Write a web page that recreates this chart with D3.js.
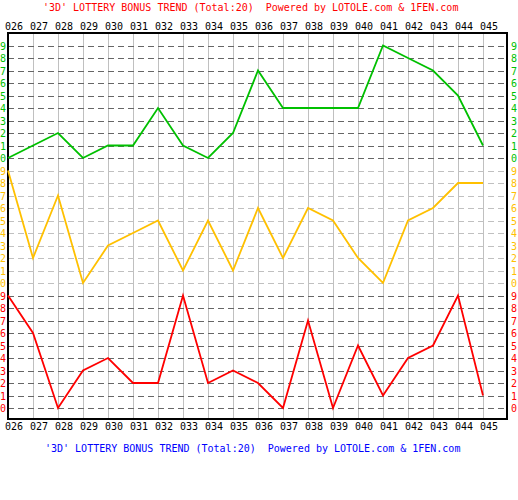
<!DOCTYPE html>
<html>
<head>
<meta charset="utf-8">
<script src="https://cdn.jsdelivr.net/npm/d3@7"></script>
<style>
  body { margin: 0; background: #fff; }
  svg text { font-family: "DejaVu Sans Mono", monospace; font-size: 10px; }
</style>
</head>
<body>
<svg id="chart" width="518" height="500"></svg>
<script>
var issues = ['026','027','028','029','030','031','032','033','034','035',
              '036','037','038','039','040','041','042','043','044','045'];
var digits = [0,1,2,3,4,5,6,7,8,9];

// one series per digit position, top to bottom
var firstNum  = [0,1,2,0,1,1,4,1,0,2,7,4,4,4,4,9,8,7,5,1];
var secondNum = [9,2,7,0,3,4,5,1,5,1,6,2,6,5,2,0,5,6,8,8];
var thirdNum  = [9,6,0,3,4,2,2,9,2,3,2,0,7,0,5,1,4,5,9,1];

var series = [firstNum, secondNum, thirdNum];
var colors = ['#00c000', '#ffc000', '#ff0000'];
var gridColors = ['#666666', '#c0c0c0', '#666666'];

var title = "'3D' LOTTERY BONUS TREND (Total:20)  Powered by LOTOLE.com & 1FEN.com";

var svg = d3.select('#chart');

var x = d3.scalePoint().domain(issues).range([8, 483]);
// 30 rows: 10 per band, row 0 is the top "9"
var row = d3.scaleLinear().domain([0, 29]).range([45.5, 408]);
var yOf = (band, v) => row(band * 10 + 9 - v);

// vertical grid
svg.append('g')
  .selectAll('line')
  .data(issues.slice(1))
  .enter()
  .append('line')
  .attr('x1', d => x(d) + 0.5)
  .attr('x2', d => x(d) + 0.5)
  .attr('y1', 33)
  .attr('y2', 419)
  .attr('stroke', '#c0c0c0')
  .attr('shape-rendering', 'crispEdges');

// horizontal dashed grid, per band
series.forEach((s, b) => {
  svg.append('g')
    .selectAll('line')
    .data(digits)
    .enter()
    .append('line')
    .attr('x1', 8)
    .attr('x2', 507)
    .attr('y1', d => Math.round(yOf(b, d)) + 0.5)
    .attr('y2', d => Math.round(yOf(b, d)) + 0.5)
    .attr('stroke', d => (d == 0 || d == 9) && b != 1 ? '#666666' : gridColors[b])
    .attr('stroke-dasharray', '6,4')
    .attr('shape-rendering', 'crispEdges');
});
// band boundaries are dark
svg.append('g')
  .selectAll('line')
  .data([[0, 0], [2, 9]])
  .enter()
  .append('line')
  .attr('x1', 8).attr('x2', 507)
  .attr('y1', d => Math.round(yOf(d[0], d[1])) + 0.5)
  .attr('y2', d => Math.round(yOf(d[0], d[1])) + 0.5)
  .attr('stroke', '#666666')
  .attr('stroke-dasharray', '6,4')
  .attr('shape-rendering', 'crispEdges');

// border
svg.append('rect')
  .attr('x', 8).attr('y', 33)
  .attr('width', 499).attr('height', 386)
  .attr('fill', 'none')
  .attr('stroke', '#000')
  .attr('stroke-width', 2)
  .attr('shape-rendering', 'crispEdges');

// trend lines
series.forEach((s, b) => {
  var line = d3.line()
    .x((d, i) => x(issues[i]))
    .y(d => yOf(b, d));
  svg.append('path')
    .attr('d', line(s))
    .attr('fill', 'none')
    .attr('stroke', colors[b])
    .attr('stroke-width', 1.8);
});

// digit labels on both sides
series.forEach((s, b) => {
  [0, 511].forEach(lx => {
    svg.append('g')
      .selectAll('text')
      .data(digits)
      .enter()
      .append('text')
      .attr('x', lx)
      .attr('y', d => yOf(b, d) + 4)
      .attr('fill', colors[b])
      .text(d => d);
  });
});

// issue labels top and bottom
[30, 430].forEach(ly => {
  svg.append('g')
    .selectAll('text')
    .data(issues)
    .enter()
    .append('text')
    .attr('x', d => x(d) - 3)
    .attr('y', ly)
    .attr('fill', '#000')
    .text(d => d);
});

// titles
svg.append('text')
  .attr('x', 43).attr('y', 10.5)
  .attr('fill', '#ff0000')
  .style('white-space', 'pre')
  .text(title);
svg.append('text')
  .attr('x', 45).attr('y', 451.5)
  .attr('fill', '#0000ff')
  .style('white-space', 'pre')
  .text(title);
</script>
</body>
</html>
